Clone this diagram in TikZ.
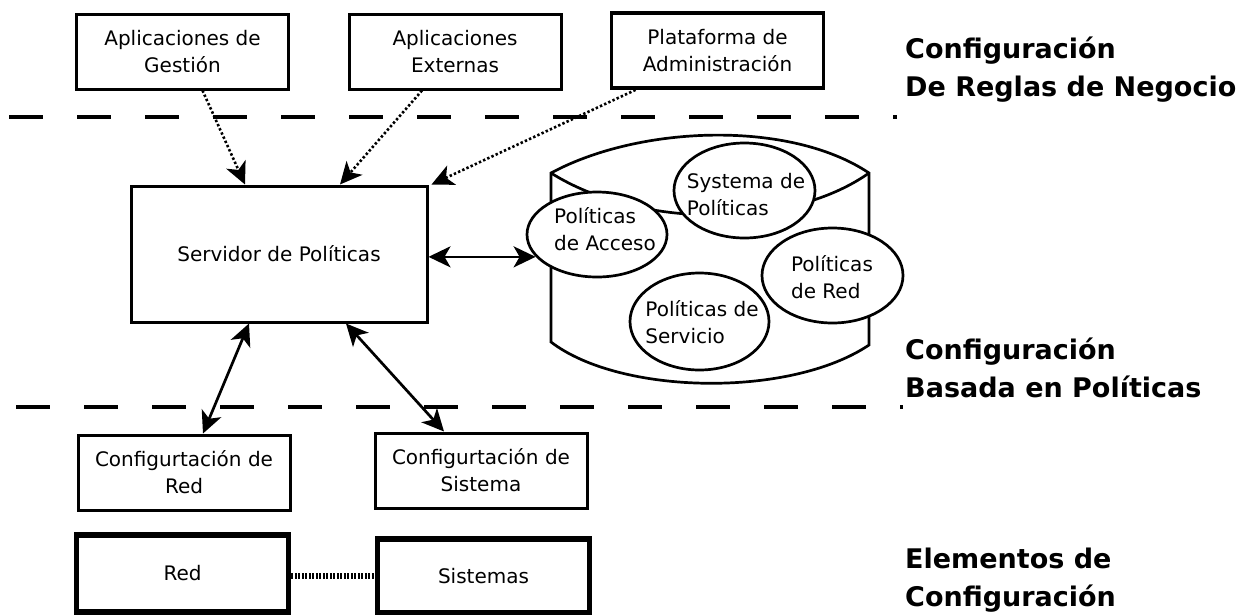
\documentclass[tikz,border=0pt]{standalone}
\usepackage{fontspec}
\setmainfont{DejaVu Sans}
\usetikzlibrary{shapes.geometric,arrows.meta}

\begin{document}
\begin{tikzpicture}[x=1pt,y=-1pt,
    caja/.style={draw, line width=3pt, minimum width=212pt, minimum height=75pt, align=center, inner sep=0pt, font=\fontsize{20}{27}\selectfont},
    gruesa/.style={caja, line width=5.5pt},
    elipse/.style={draw, ellipse, fill=white, line width=2.7pt, minimum width=140pt, minimum height=90pt, inner sep=0pt},
    texto/.style={align=left, inner sep=0pt, font=\fontsize{20}{27}\selectfont},
    nivel/.style={anchor=west, align=left, inner sep=0pt, font=\fontsize{27}{38}\selectfont\bfseries},
    punteada/.style={draw, line width=2.6pt, dash pattern=on 2.4pt off 2.2pt, -{Stealth[length=22pt,width=21pt,inset=6pt]}},
    doble/.style={draw, line width=2.7pt, {Stealth[length=22pt,width=21pt,inset=6pt]}-{Stealth[length=22pt,width=21pt,inset=6pt]}},
    division/.style={draw, line width=3.2pt, dash pattern=on 34pt off 34pt}]
        \useasboundingbox (0,0) rectangle (1248,614);

        \node[caja] (gestion) at (182.5,51.5) {Aplicaciones de\\Gestión};
        \node[caja] (externas) at (455,51.5) {Aplicaciones\\Externas};
        \node[caja, line width=3.8pt] (plataforma) at (717.5,50.5) {Plataforma de\\Administración};
        \node[caja, minimum width=296pt, minimum height=136pt] (servidor) at (279,254) {Servidor de Políticas};
        \node[caja] (cfgred) at (184,472.5) {Configurtación de\\Red};
        \node[caja] (cfgsis) at (481,470.5) {Configurtación de\\Sistema};
        \node[gruesa, minimum height=77pt] (red) at (182.5,573.5) {Red};
        \node[gruesa, minimum height=74pt] (sistemas) at (483.5,576) {Sistemas};

        % repositorio de politicas
        \draw[line width=2.7pt] (551,173) .. controls (640,125) and (790,120) .. (869,173) -- (869,345) .. controls (790,398) and (620,395) .. (551,342) -- cycle;
        \draw[line width=2.7pt] (551,173) .. controls (640,229) and (790,229) .. (869,173);

        \node[elipse, minimum width=141pt, minimum height=95pt] (sistema) at (744.5,190.5) {};
        \node[elipse, minimum height=85pt] (acceso) at (597,234.5) {};
        \node[elipse, minimum width=141pt, minimum height=95pt] (redpol) at (832.5,275.5) {};
        \node[elipse, minimum width=139pt, minimum height=97pt] (servicio) at (699.5,321.5) {};
        \node[texto] (sistema-t) at (746,195) {Systema de\\Políticas};
        \node[texto] (acceso-t) at (605,229) {Políticas\\de Acceso};
        \node[texto] (redpol-t) at (832,277) {Políticas\\de Red};
        \node[texto] (servicio-t) at (702,322) {Políticas de\\Servicio};

        \path[punteada] ([xshift=20pt]gestion.south) -- ([xshift=-34pt]servidor.north);
        \path[punteada] ([xshift=-33pt]externas.south) -- ([xshift=61pt]servidor.north);
        \path[punteada] ([xshift=-82pt]plataforma.south) -- ([xshift=3pt]servidor.north east);
        \path[doble] (servidor.east |- acceso.200) -- (acceso.200);
        \path[doble] ([xshift=-30pt]servidor.south) -- ([xshift=19pt]cfgred.north);
        \path[doble] ([xshift=67pt]servidor.south) -- ([xshift=-37pt]cfgsis.north);
        \path[draw, line width=6pt, dash pattern=on 2pt off 1.5pt] (red.east |- sistemas) -- (sistemas.west);

        \path[division] (9,117) -- (897,117);
        \path[division] (16,407) -- (903,407);

        \node[nivel] (reglas) at (905,70) {Configuración\\De Reglas de Negocio};
        \node[nivel] (basada) at (905,368) {Configuración\\Basada en Políticas};
        \node[nivel] (elementos) at (905,580) {Elementos de\\Configuración};
    \end{tikzpicture}
\end{document}
